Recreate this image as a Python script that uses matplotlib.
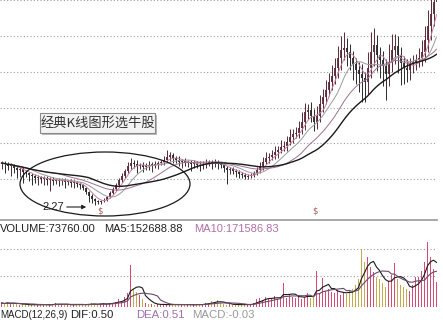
import matplotlib
matplotlib.use("Agg")
import matplotlib.pyplot as plt
from matplotlib.patches import Ellipse, FancyBboxPatch
import numpy as np
import pandas as pd

# daily closes
closes = [
    4.37, 4.32, 4.22, 4.27, 4.12, 4.02, 4.07, 3.92, 3.87, 3.77,
    3.72, 3.62, 3.67, 3.57, 3.62, 3.52, 3.57, 3.47, 3.52, 3.47,
    3.52, 3.42, 3.47, 3.37, 3.42, 3.32, 3.27, 3.12, 2.92, 2.72,
    2.57, 2.47, 2.42, 2.47, 2.52, 2.67, 2.87, 3.07, 3.27, 3.52,
    3.72, 3.97, 4.22, 4.37, 4.32, 4.22, 4.27, 4.17, 4.27, 4.22,
    4.32, 4.27, 4.37, 4.42, 4.52, 4.67, 4.77, 4.62, 4.52, 4.42,
    4.47, 4.37, 4.42, 4.32, 4.37, 4.27, 4.22, 4.32, 4.37, 4.42,
    4.37, 4.42, 4.32, 4.27, 4.12, 4.02, 4.07, 3.97, 3.92, 3.82,
    3.77, 3.67, 3.72, 3.77, 3.87, 4.02, 4.22, 4.42, 4.62, 4.67,
    4.77, 4.92, 5.02, 5.17, 5.22, 5.42, 5.67, 5.82, 5.87, 6.12,
    6.42, 6.92, 7.02, 6.72, 6.42, 6.72, 7.32, 7.67, 8.02, 8.42,
    8.72, 9.12, 9.62, 10.02, 10.12, 9.92, 9.62, 9.32, 9.02, 8.82,
    8.62, 8.42, 9.12, 9.92, 10.27, 9.77, 9.52, 9.22, 8.82, 9.42,
    10.02, 10.22, 9.77, 9.37, 9.12, 9.02, 9.32, 9.42, 9.52, 9.62,
    9.92, 10.52, 11.22, 11.82, 12.42, 12.92,
]

# upper / lower shadows
wick_up = [
    0.10, 0.08, 0.12, 0.10, 0.06, 0.10, 0.08, 0.12, 0.10, 0.06, 0.08, 0.10, 0.12, 0.06,
    0.08, 0.10, 0.08, 0.10, 0.06, 0.12, 0.08, 0.10, 0.06, 0.08, 0.10, 0.06, 0.08,
    0.05, 0.06, 0.05, 0.08, 0.06, 0.05, 0.06, 0.08, 0.06, 0.10, 0.08, 0.12, 0.10, 0.15,
    0.12, 0.20,
    0.25, 0.15, 0.20, 0.12, 0.15, 0.10, 0.18, 0.12, 0.15, 0.10, 0.12, 0.20, 0.35, 0.15,
    0.10, 0.12, 0.18, 0.10, 0.15, 0.12, 0.10, 0.15, 0.12, 0.20, 0.15, 0.18, 0.12, 0.10,
    0.15, 0.12, 0.10, 0.08, 0.12, 0.10, 0.08, 0.10, 0.12, 0.08, 0.10, 0.08, 0.12, 0.10,
    0.15,
    0.20, 0.25, 0.30, 0.20, 0.25, 0.30, 0.20, 0.35, 0.25, 0.30, 0.40, 0.25, 0.30, 0.35,
    0.50, 0.45, 0.30, 0.40, 0.35, 0.50, 0.45, 0.40, 0.50, 0.45, 0.55,
    0.50, 0.60, 0.70, 0.80, 0.50, 0.40, 0.35, 0.30, 0.40, 0.50, 0.30, 0.80, 1.00, 0.85,
    0.50, 0.40, 0.45, 0.35, 0.90, 0.80, 0.60, 0.50, 0.40, 0.35, 0.45, 0.30, 0.35, 0.30,
    0.50, 0.60, 0.70, 0.80, 0.90, 0.80, 0.70,
]
wick_dn = [
    0.30, 0.45, 0.20, 0.50, 0.25, 0.40, 0.35, 0.55, 0.20, 0.30, 0.45, 0.25, 0.35, 0.20,
    0.30, 0.25, 0.55, 0.20, 0.15, 0.25, 0.20, 0.30, 0.15, 0.20, 0.25, 0.15, 0.20,
    0.10, 0.12, 0.30, 0.20, 0.20, 0.10, 0.08, 0.06, 0.05, 0.06, 0.05, 0.08, 0.06, 0.08,
    0.10, 0.10,
    0.15, 0.20, 0.35, 0.15, 0.25, 0.15, 0.20, 0.30, 0.15, 0.20, 0.10, 0.15, 0.10, 0.20,
    0.25, 0.15, 0.20, 0.30, 0.15, 0.20, 0.35, 0.20, 0.15, 0.25, 0.15, 0.20, 0.15, 0.30,
    0.20, 0.25, 0.15, 0.20, 0.70, 0.20, 0.15, 0.25, 0.20, 0.15, 0.10, 0.12, 0.10, 0.08,
    0.10,
    0.15, 0.20, 0.10, 0.25, 0.15, 0.20, 0.30, 0.15, 0.20, 0.25, 0.15, 0.30, 0.20, 0.25,
    0.30, 0.40, 0.35, 0.30, 0.45, 0.35, 0.30, 0.40, 0.35, 0.30, 0.40,
    0.40, 0.50, 0.60, 0.50, 0.70, 0.60, 0.80, 0.70, 0.90, 1.20, 1.00, 0.60, 0.50, 0.70,
    0.80, 0.90, 1.00, 1.30, 0.60, 0.50, 0.70, 0.90, 1.10, 0.80, 0.60, 0.50, 0.45, 0.40,
    0.35, 0.40, 0.50, 0.60, 0.70, 0.60, 0.50,
]

# volume in thousands
volume_k = [
    20, 15, 25, 15, 20, 15, 10, 15, 10,
    10, 10, 15, 10, 10, 15, 10, 10, 15, 20, 15, 10, 10, 15, 10, 10, 15,
    10, 15, 10, 15, 20, 15, 10, 15, 20, 15, 20, 20,
    25, 40, 30, 50, 70,
    210,
    90, 75, 60, 40,
    20, 15, 15, 10, 15, 10, 15, 10, 10, 15, 10, 15, 10, 10, 15, 10, 10, 15, 10, 15, 20,
    20, 30, 25, 35, 20,
    15, 10, 15, 10, 15, 10, 10, 15, 10, 15, 20,
    40, 45, 35, 50, 40, 45, 55, 40, 50,
    120,
    45, 60, 50, 45, 60, 40, 50, 70, 45, 55,
    180,
    70, 145, 80, 90, 75,
    70, 85, 60, 75, 65, 80, 90,
    110, 140, 290, 225, 250, 200, 175, 150, 140, 120, 100, 130, 160, 220, 140, 110,
    100, 90, 80, 110, 150, 150, 180, 225, 325, 250, 190, 125,
]

price_grid = [3.57, 5.37, 7.12, 8.92, 10.72, 12.50]
volume_grid_k = [155, 290]

label = "经典K线图形选牛股"
low_label = "2.27"
vol_texts = [("VOLUME:73760.00", "#222222"), ("MA5:152688.88", "#222222"),
             ("MA10:171586.83", "#b070a8")]
macd_texts = [("MACD(12,26,9)", "#222222"), ("DIF:0.50", "#222222"),
              ("DEA:0.51", "#a070b0"), ("MACD:-0.03", "#9a9a9a")]

W, H = 443, 332
UP = "#5a2a36"
DOWN = "#2a2a2a"


def px_box(x0, y0, x1, y1):
    """axes rect from pixel corners (origin top-left)"""
    return [x0 / W, 1 - y1 / H, (x1 - x0) / W, (y1 - y0) / H]


def clean(ax):
    ax.set_xticks([])
    ax.tick_params(left=False, labelleft=False)
    for s in ("top", "left", "right", "bottom"):
        ax.spines[s].set_visible(False)
    ax.set_facecolor("none")


def draw_kline(ax):
    c = np.array(closes)
    o = np.r_[c[0], c[:-1]]
    idx = np.arange(len(c))
    rising = c >= o
    cols = np.where(rising, UP, DOWN)
    hi = np.maximum(o, c) + np.array(wick_up)
    lo = np.minimum(o, c) - np.array(wick_dn)
    ax.vlines(idx, lo, hi, colors=cols, lw=0.7, zorder=3)
    ax.vlines(idx, np.minimum(o, c), np.maximum(o, c), colors=cols, lw=1.3, zorder=3)
    s = pd.Series(c)
    for n, col, lw in [(5, "#c880a0", 0.7), (10, "#9a9a9a", 0.7),
                       (20, "#a07090", 0.7), (30, "#1a1a1a", 1.0)]:
        ax.plot(idx, s.rolling(n, min_periods=1).mean(), color=col, lw=lw, zorder=4)
    ax.set_xlim(-0.5, 437 / 3 - 0.5)
    ax.set_ylim(1.52, 12.52)
    clean(ax)
    ax.set_yticks(price_grid)
    ax.grid(axis="y", ls=(0, (1, 2)), color="#a0a0a0", lw=0.8)
    ax.spines["bottom"].set_visible(True)
    ax.spines["bottom"].set_color("#9a9a9a")
    ax.spines["bottom"].set_linewidth(1.2)


def draw_volume(ax):
    c = np.array(closes)
    o = np.r_[c[0], c[:-1]]
    idx = np.arange(len(c))
    v = np.array(volume_k) * 1000
    cols = np.where(c >= o, "#d84a72", "#c4aa4a")
    ax.bar(idx, v, width=0.55, color=cols, lw=0, zorder=3)
    s = pd.Series(v)
    ax.plot(idx, s.rolling(5, min_periods=1).mean(), color="#1a1a1a", lw=0.8, zorder=4)
    ax.plot(idx, s.rolling(10, min_periods=1).mean(), color="#6a4a6a", lw=0.8, zorder=4)
    ax.set_xlim(-0.5, 437 / 3 - 0.5)
    ax.set_ylim(0, 425000)
    clean(ax)
    ax.set_yticks([g * 1000 for g in volume_grid_k])
    ax.grid(axis="y", ls=(0, (1, 2)), color="#a0a0a0", lw=0.8)


def draw_notes(ov):
    ov.set_xlim(0, W)
    ov.set_ylim(H, 0)
    ov.axis("off")
    ov.add_patch(Ellipse((105, 184), 170, 64, fill=False, ec="#1a1a1a", lw=0.9))
    ov.add_patch(FancyBboxPatch((42, 115), 115, 20, boxstyle="square,pad=0",
                                fc="#b8b8b8", ec="none"))
    ov.add_patch(FancyBboxPatch((40, 113), 115, 20, boxstyle="square,pad=0",
                                fc="#f3f3f3", ec="#8a8a8a", lw=0.8))
    ov.text(97.5, 123.5, label, ha="center", va="center", fontsize=9.5,
            color="#333333", family=["Noto Sans CJK SC", "DejaVu Sans"])
    ov.text(53, 207, low_label, ha="center", va="center", fontsize=8,
            color="#222222", family="Liberation Sans")
    ov.annotate("", xy=(89, 207), xytext=(64, 207),
                arrowprops=dict(arrowstyle="-|>", color="#222222", lw=0.8,
                                mutation_scale=6))
    for x in (100, 315):
        ov.text(x, 211, "$", ha="center", va="center", fontsize=6, color="#a05a5a")
    for (t, col), x in zip(vol_texts, (0, 104, 194)):
        ov.text(x, 229, t, ha="left", va="center", fontsize=8, color=col,
                family="Liberation Sans")
    for (t, col), x, fs in zip(macd_texts, (0, 70, 136, 192), (7.0, 8.2, 8.2, 8.2)):
        ov.text(x, 315, t, ha="left", va="center", fontsize=fs, color=col,
                family="Liberation Sans")


def main():
    fig = plt.figure(figsize=(W / 100, H / 100), dpi=100)
    fig.patch.set_facecolor("white")
    draw_kline(fig.add_axes(px_box(0, 0, 437, 220)))
    draw_volume(fig.add_axes(px_box(0, 222, 437, 307)))
    draw_notes(fig.add_axes([0, 0, 1, 1]))
    fig.savefig("out.png", dpi=100)


if __name__ == '__main__':
    main()
